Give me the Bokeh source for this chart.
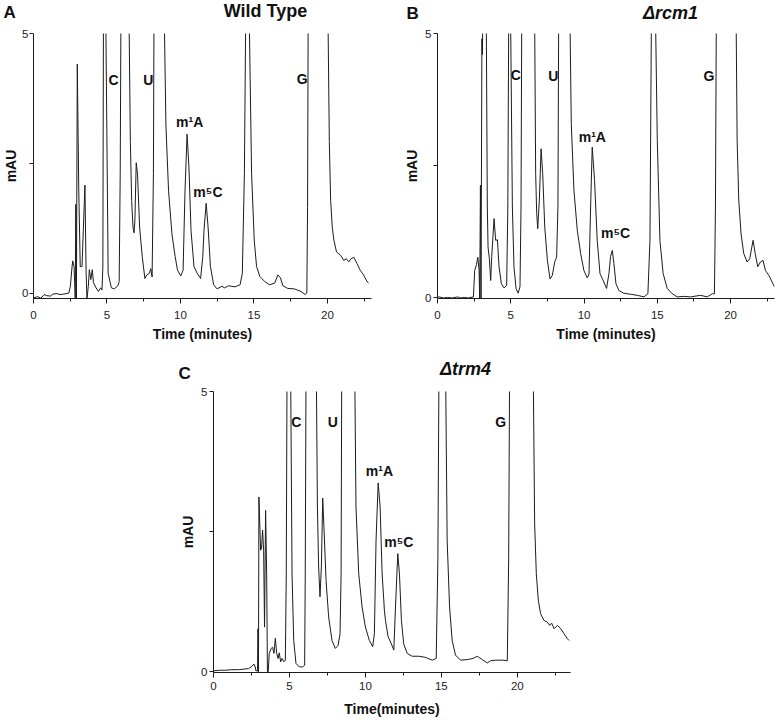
from bokeh.plotting import figure
from bokeh.layouts import row, column
from bokeh.models import FixedTicker, ColumnDataSource, Range1d, Spacer
from bokeh.core.properties import value
from bokeh.embed import file_html
from bokeh.resources import INLINE

FONT = "Liberation Sans"
INK = "#1c1c1c"

# ---------------- data (time in minutes, absorbance in mAU) ----------------
wt_time = [0.0, 0.3, 0.5, 0.72, 0.9, 1.17, 1.3, 1.6, 1.8, 2.06, 2.4, 2.51, 2.62, 2.67, 2.76, 2.8,
           2.84, 2.88, 2.92, 2.98, 3.08, 3.18, 3.3, 3.5, 3.58, 3.64, 3.73, 3.8, 3.9, 4.0, 4.08,
           4.26, 4.42, 4.57, 4.66, 4.72, 4.76, 4.84, 4.92, 5.08, 5.3, 5.5, 5.74, 5.83, 5.9, 5.95,
           6.2, 6.5, 6.59, 6.68, 6.77, 6.84, 6.9, 6.99, 7.08, 7.22, 7.4, 7.58, 7.71, 7.89, 7.98,
           8.07, 8.16, 8.2, 8.55, 8.9, 9.01, 9.19, 9.42, 9.64, 9.8, 10.02, 10.18, 10.31, 10.45,
           10.58, 10.72, 10.92, 11.14, 11.37, 11.52, 11.6, 11.75, 11.88, 12.04, 12.26, 12.49,
           12.82, 13.0, 13.27, 13.5, 13.72, 14.06, 14.21, 14.35, 14.44, 14.56, 14.68, 14.84,
           15.02, 15.18, 15.4, 15.74, 16.07, 16.41, 16.63, 16.81, 16.97, 17.3, 17.75, 18.2,
           18.49, 18.6, 18.65, 18.69, 19.3, 20.04, 20.13, 20.22, 20.33, 20.44, 20.62, 20.89,
           21.11, 21.29, 21.45, 21.61, 21.79, 22.01, 22.23, 22.46, 22.64, 22.79]
wt_mau = [-0.09, -0.07, -0.1, -0.03, -0.05, -0.06, -0.02, -0.01, -0.03, -0.02, 0.0, 0.13, 0.5,
          0.62, 0.51, 0.2, -0.11, 1.71, -0.11, 4.41, 2.0, 0.51, 0.51, 2.08, 0.38, -0.11, 0.13,
          0.45, 0.26, 0.45, 0.2, 0.1, 0.03, 0.1, 0.06, 0.5, 5.3, 20.0, 5.3, 0.38, 0.1, 0.08,
          0.14, 0.22, 2.3, 5.3, 40.0, 5.3, 2.92, 1.78, 1.27, 1.16, 1.4, 2.51, 2.29, 1.27, 0.7,
          0.28, 0.35, 0.38, 0.47, 0.31, 2.3, 5.3, 40.0, 5.3, 3.24, 1.97, 1.14, 0.7, 0.44, 0.33,
          0.44, 1.97, 3.06, 2.41, 1.2, 0.51, 0.38, 0.28, 0.7, 1.2, 1.73, 1.27, 0.51, 0.16, 0.08,
          0.13, 0.1, 0.14, 0.13, 0.12, 0.16, 0.38, 2.3, 5.3, 30.0, 5.3, 2.3, 1.02, 0.51, 0.32,
          0.22, 0.16, 0.19, 0.35, 0.29, 0.14, 0.09, 0.08, 0.03, -0.03, 0.0, 1.65, 5.3, 60.0,
          5.3, 2.92, 1.78, 1.27, 1.02, 0.79, 0.73, 0.63, 0.66, 0.6, 0.66, 0.69, 0.57, 0.44,
          0.35, 0.25, 0.19]

rcm1_time = [0.0, 0.11, 0.4, 0.68, 1.0, 1.36, 1.6, 1.82, 2.1, 2.45, 2.54, 2.66, 2.75, 2.84,
             2.88, 2.93, 2.97, 3.03, 3.06, 3.1, 3.22, 3.33, 3.4, 3.45, 3.54, 3.63, 3.7, 3.86,
             3.97, 4.09, 4.2, 4.36, 4.54, 4.72, 4.8, 4.86, 4.93, 4.99, 5.11, 5.22, 5.36, 5.5,
             5.63, 5.7, 5.75, 6.2, 6.63, 6.7, 6.77, 6.84, 6.95, 7.07, 7.18, 7.32, 7.5, 7.68,
             7.84, 8.0, 8.13, 8.22, 8.27, 8.65, 9.04, 9.13, 9.31, 9.54, 9.77, 9.99, 10.22,
             10.34, 10.45, 10.56, 10.72, 10.9, 11.09, 11.31, 11.54, 11.7, 11.81, 11.93, 12.04,
             12.18, 12.38, 12.72, 13.18, 13.63, 14.09, 14.36, 14.5, 14.6, 14.75, 14.88, 15.0,
             15.18, 15.4, 15.68, 16.02, 16.36, 16.81, 17.27, 17.95, 18.41, 18.75, 18.9, 18.97,
             19.03, 19.7, 20.38, 20.45, 20.56, 20.72, 20.9, 21.13, 21.31, 21.45, 21.54, 21.68,
             21.86, 22.04, 22.22, 22.38, 22.61, 22.84, 23.0]
rcm1_mau = [0.02, 0.02, 0.0, 0.01, 0.0, 0.02, 0.0, 0.01, 0.0, 0.02, 0.52, 0.63, 0.77, 0.52,
            -0.01, 2.13, -0.01, 4.9, 4.6, 5.3, 20.0, 5.3, 1.72, 0.96, 0.74, 0.33, 0.78, 1.5,
            1.09, 1.1, 0.59, 0.27, 0.19, 0.24, 1.72, 5.3, 20.0, 5.3, 1.72, 0.59, 0.18, 0.09,
            0.21, 1.72, 5.3, 40.0, 5.3, 2.35, 1.6, 1.31, 1.85, 2.82, 2.35, 1.34, 0.71, 0.36,
            0.43, 0.68, 0.77, 1.72, 5.3, 40.0, 5.3, 3.3, 2.04, 1.28, 0.84, 0.52, 0.38, 0.45,
            1.72, 2.85, 2.22, 1.09, 0.46, 0.33, 0.18, 0.46, 0.78, 0.9, 0.65, 0.27, 0.14, 0.09,
            0.07, 0.05, 0.02, 0.08, 1.09, 5.3, 30.0, 5.3, 2.98, 1.09, 0.46, 0.18, 0.08, 0.02,
            0.03, 0.02, 0.05, 0.02, 0.08, 0.08, 1.72, 5.3, 60.0, 5.3, 2.98, 1.85, 1.21, 0.84,
            0.68, 0.74, 0.96, 1.09, 0.84, 0.59, 0.68, 0.71, 0.52, 0.43, 0.3, 0.21]

trm4_time = [0.0, 0.4, 0.77, 1.2, 1.65, 2.0, 2.31, 2.53, 2.66, 2.75, 2.79, 2.9, 2.93, 2.96,
             2.99, 3.1, 3.16, 3.23, 3.3, 3.36, 3.43, 3.5, 3.55, 3.6, 3.67, 3.8, 3.89, 3.98, 4.07,
             4.16, 4.25, 4.33, 4.42, 4.51, 4.64, 4.73, 4.79, 4.84, 4.96, 5.08, 5.17, 5.28, 5.43,
             5.65, 5.87, 6.0, 6.04, 6.09, 6.45, 6.77, 6.84, 6.92, 7.01, 7.1, 7.19, 7.27, 7.41,
             7.58, 7.8, 8.02, 8.2, 8.33, 8.4, 8.44, 8.87, 9.3, 9.38, 9.56, 9.78, 10.0, 10.26,
             10.48, 10.59, 10.7, 10.84, 10.97, 11.1, 11.25, 11.32, 11.49, 11.71, 11.87, 11.98,
             12.13, 12.24, 12.37, 12.52, 12.75, 13.08, 13.51, 13.95, 14.4, 14.66, 14.77, 14.84,
             15.06, 15.28, 15.38, 15.54, 15.71, 15.93, 16.26, 16.71, 17.08, 17.36, 17.69, 18.02,
             18.24, 18.57, 19.01, 19.34, 19.43, 19.49, 20.27, 21.05, 21.14, 21.25, 21.38, 21.53,
             21.75, 21.97, 22.13, 22.26, 22.42, 22.64, 22.86, 23.08, 23.3, 23.41]
trm4_mau = [0.02, 0.03, 0.03, 0.04, 0.04, 0.05, 0.06, 0.1, 0.14, 0.09, 0.02, 0.02, 0.77, 0.0,
            3.12, 2.17, 2.2, 2.53, 2.17, 0.8, 2.88, 1.75, 0.0, 0.0, 0.33, 0.42, 0.44, 0.33, 0.6,
            0.33, 0.24, 0.34, 0.18, 0.24, 0.18, 0.21, 1.75, 5.3, 20.0, 5.3, 1.75, 0.56, 0.15,
            0.09, 0.09, 0.12, 1.75, 5.3, 40.0, 5.3, 2.94, 1.87, 1.34, 1.87, 3.1, 2.58, 1.63,
            0.98, 0.56, 0.42, 0.47, 0.68, 1.75, 5.3, 40.0, 5.3, 2.94, 1.75, 1.16, 0.8, 0.56,
            0.45, 0.68, 2.35, 3.37, 2.94, 1.75, 1.1, 0.92, 0.63, 0.5, 0.39, 1.16, 2.11, 1.75,
            0.92, 0.5, 0.33, 0.28, 0.28, 0.26, 0.21, 0.24, 2.0, 5.3, 30.0, 5.3, 2.35, 1.16,
            0.56, 0.3, 0.21, 0.22, 0.24, 0.28, 0.22, 0.16, 0.2, 0.21, 0.21, 0.2, 2.0, 5.3, 60.0,
            5.3, 2.64, 1.75, 1.28, 1.04, 0.92, 0.89, 0.83, 0.87, 0.77, 0.83, 0.77, 0.68, 0.59,
            0.56]

# peak annotations: name, time, mAU position
peak_names = ["C", "U", "m\u00b9A", "m\u2075C", "G"]
wt_peak_t = [5.45, 7.82, 10.63, 11.87, 18.29]
wt_peak_y = [4.11, 4.11, 3.29, 1.94, 4.13]
rcm1_peak_t = [5.34, 7.91, 10.57, 12.15, 18.52]
rcm1_peak_y = [4.21, 4.19, 3.04, 1.23, 4.19]
trm4_peak_t = [5.45, 7.85, 10.92, 12.2, 18.9]
trm4_peak_y = [4.45, 4.45, 3.59, 2.32, 4.45]

# panel headings
head1_text = ["A", "Wild Type", "B", "\u0394rcm1"]
head2_text = ["C", "\u0394trm4"]

x_major = [0, 5, 10, 15, 20]
x_minor = [2.5, 7.5, 12.5, 17.5, 22.5]
y_major = [0, 5]
y_minor = [2.5]


def header(width, height, xs, ys, texts, sizes, styles, aligns):
    h = figure(width=width, height=height, x_range=Range1d(0, width),
               y_range=Range1d(height, 0), output_backend="svg", toolbar_location=None,
               x_axis_location=None, y_axis_location=None, title=None,
               min_border_left=0, min_border_right=0, min_border_top=0, min_border_bottom=0)
    h.outline_line_color = None
    h.xgrid.visible = False
    h.ygrid.visible = False
    src = ColumnDataSource(dict(x=xs, y=ys, text=texts, size=sizes, style=styles,
                                align=aligns))
    h.text(x="x", y="y", text="text", source=src, text_font=value(FONT),
           text_font_size="size", text_font_style="style", text_align="align",
           text_baseline="middle", text_color="#111111")
    return h


def panel(t, v, pk_t, pk_y, x_end, y_start, width, height, bl, br, bt, bb, xlabel,
          ylab_standoffs, xlab_standoffs):
    p = figure(width=width, height=height, x_range=Range1d(0, x_end),
               y_range=Range1d(y_start, 5), output_backend="svg", toolbar_location=None,
               title=None, min_border_left=bl, min_border_right=br, min_border_top=bt,
               min_border_bottom=bb, background_fill_color="white",
               border_fill_color="white")
    p.outline_line_color = None
    p.xgrid.visible = False
    p.ygrid.visible = False
    p.line(t, v, line_color=INK, line_width=1.0)

    src = ColumnDataSource(dict(x=pk_t, y=pk_y, name=peak_names))
    p.text(x="x", y="y", text="name", source=src, text_font=value(FONT),
           text_font_style="bold", text_font_size="14px", text_align="center",
           text_baseline="middle", text_color="#111111")

    p.xaxis.ticker = FixedTicker(ticks=x_major, minor_ticks=x_minor)
    p.yaxis.ticker = FixedTicker(ticks=y_major, minor_ticks=y_minor)
    for ax in (p.xaxis, p.yaxis):
        ax.axis_line_color = INK
        ax.major_tick_line_color = INK
        ax.minor_tick_line_color = INK
        ax.major_tick_in = 0
        ax.minor_tick_in = 0
        ax.major_label_text_font = FONT
        ax.major_label_text_font_size = "11.5px"
        ax.major_label_text_color = "#222222"
        ax.axis_label_text_font = FONT
        ax.axis_label_text_font_style = "bold"
        ax.axis_label_text_font_size = "14px"
        ax.axis_label_text_color = "#111111"
    p.xaxis.major_tick_out = 5
    p.xaxis.minor_tick_out = 3
    p.xaxis.major_label_standoff = xlab_standoffs[0]
    p.xaxis.axis_label_standoff = xlab_standoffs[1]
    p.xaxis.axis_label = xlabel
    p.yaxis.major_tick_out = 4
    p.yaxis.minor_tick_out = 4
    p.yaxis.major_label_standoff = ylab_standoffs[0]
    p.yaxis.axis_label_standoff = ylab_standoffs[1]
    p.yaxis.axis_label = "mAU"
    return p


head1 = header(777, 23, [3, 265, 406, 670], [12.3, 10.0, 12.5, 12.5], head1_text,
               ["17px", "18px", "17px", "18px"], ["bold", "bold", "bold", "bold italic"],
               ["left", "center", "left", "center"])
head2 = header(777, 38, [178, 465], [28.0, 23.7], head2_text, ["17px", "18px"],
               ["bold", "bold italic"], ["left", "center"])

pA = panel(wt_time, wt_mau, wt_peak_t, wt_peak_y, 23, -0.105, 385, 322, 31, 14, 8, 46,
           "Time (minutes)", (1, 0), (7, 4))
pB = panel(rcm1_time, rcm1_mau, rcm1_peak_t, rcm1_peak_y, 23, -0.01, 392, 322, 52, 3, 10, 47,
           "Time (minutes)", (2, 2), (7, 4))
pC = panel(trm4_time, trm4_mau, trm4_peak_t, trm4_peak_y, 23.5, -0.01, 410, 337, 43, 10, 8, 48,
           "Time(minutes)", (2, 2), (4, 8))

layout = column(head1, row(pA, pB), head2, row(Spacer(width=170, height=337), pC))

open("out.html", "w").write(file_html(layout, INLINE))
